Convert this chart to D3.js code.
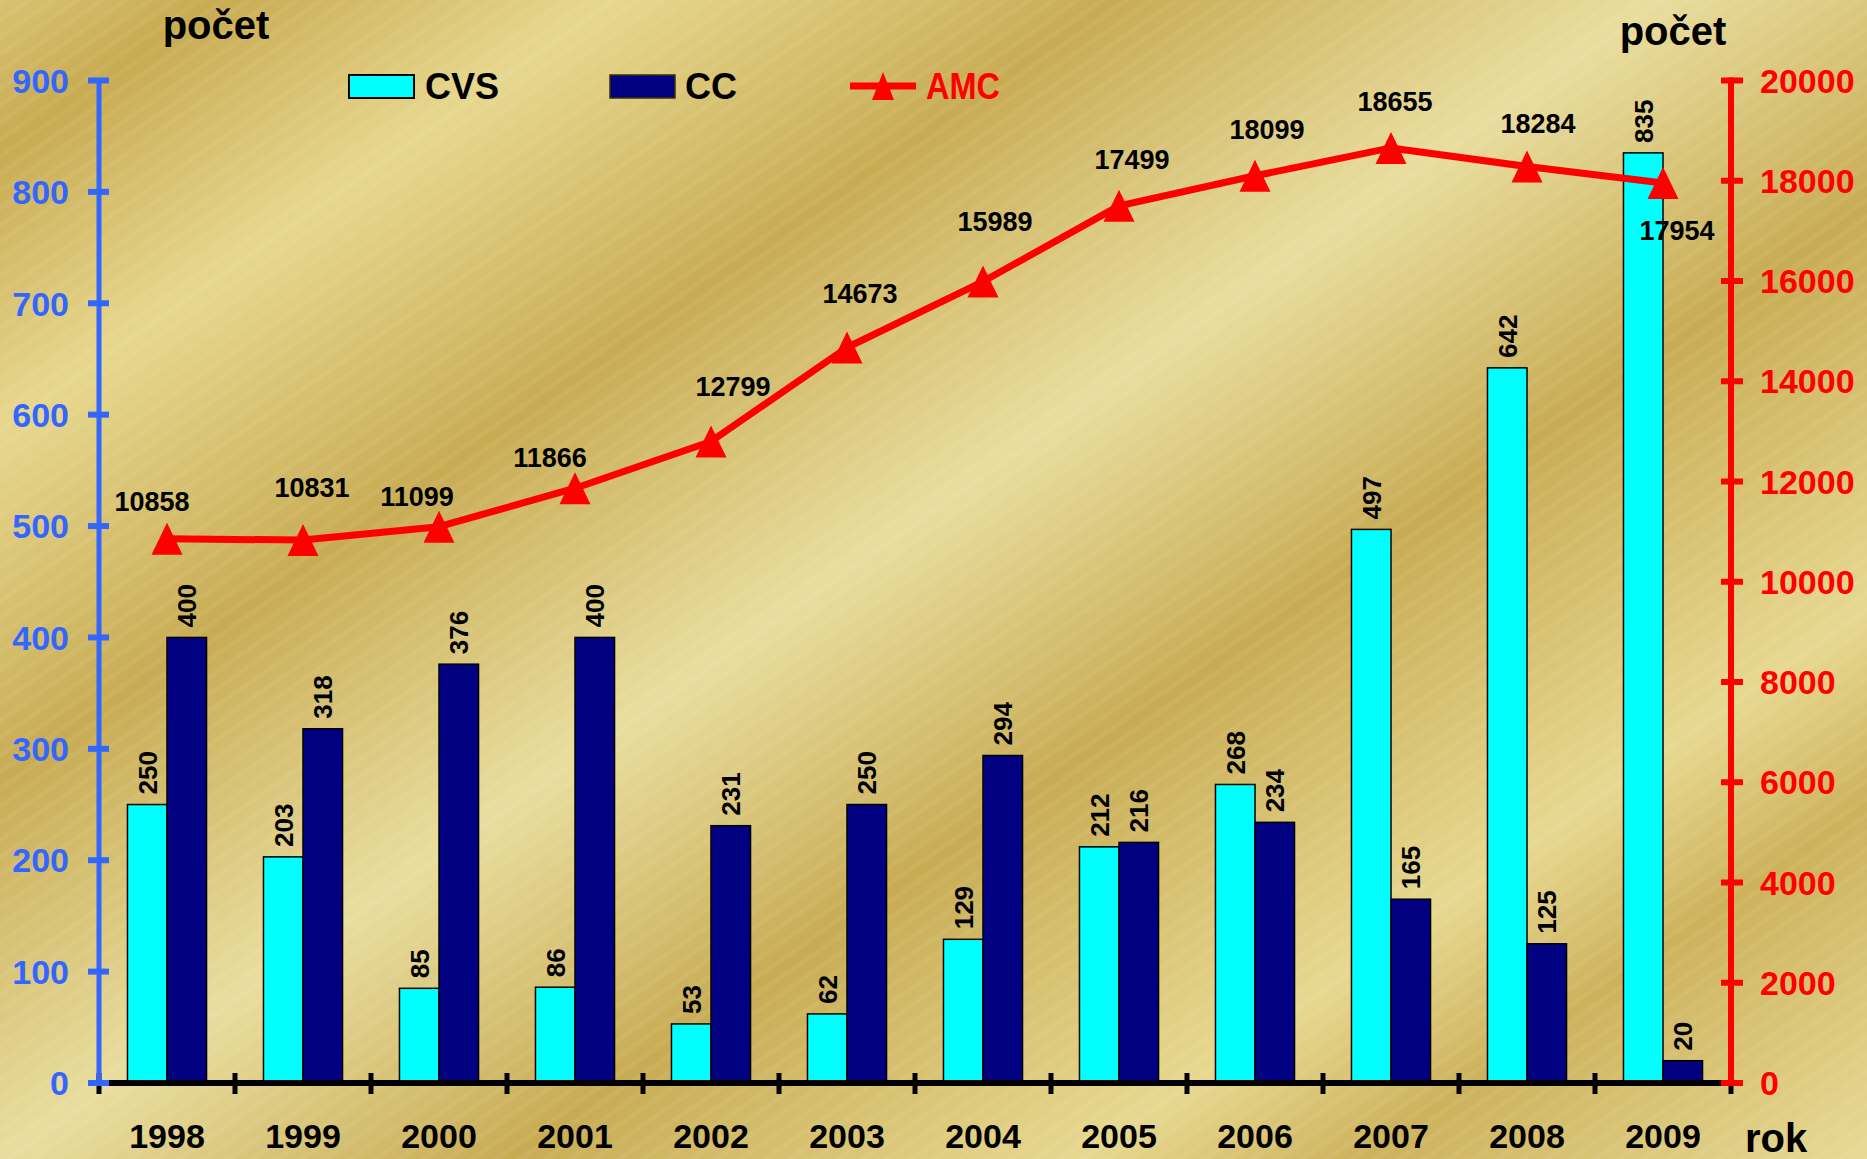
<!DOCTYPE html>
<html>
<head>
<meta charset="utf-8">
<script src="https://cdn.jsdelivr.net/npm/d3@7"></script>
<style>
  html, body { margin: 0; padding: 0; background: #d8c27a; }
  svg { display: block; }
  text { font-family: "Liberation Sans", Arial, Helvetica, sans-serif; font-weight: bold; }
</style>
</head>
<body>
<svg id="chart" width="1867" height="1159"></svg>
<script>
// ---- data ----
const years = ["1998","1999","2000","2001","2002","2003","2004","2005","2006","2007","2008","2009"];
const cvs = [250, 203, 85, 86, 53, 62, 129, 212, 268, 497, 642, 835];
const cc  = [400, 318, 376, 400, 231, 250, 294, 216, 234, 165, 125, 20];
const amc = [10858, 10831, 11099, 11866, 12799, 14673, 15989, 17499, 18099, 18655, 18284, 17954];
const leftTicks  = [0, 100, 200, 300, 400, 500, 600, 700, 800, 900];
const rightTicks = [0, 2000, 4000, 6000, 8000, 10000, 12000, 14000, 16000, 18000, 20000];
const seriesNames = ["CVS", "CC", "AMC"];
// label placement offsets for the AMC value labels (layout, not data)
const amcLabelDx = [-15, 9, -22, -25, 22, 13, 12, 13, 12, 4, 11, 14];
const amcLabelDy = [-28, -43, -21, -21, -45, -45, -51, -37, -37, -37, -34, 57];

const W = 1867, H = 1159;
const svg = d3.select("#chart");
const defs = svg.append("defs");

// ---- background gold gradient ----
const L = 2021, ux = 0.574, uy = 0.819;
const grad = defs.append("linearGradient").attr("id", "gold")
  .attr("gradientUnits", "userSpaceOnUse")
  .attr("x1", 0).attr("y1", 0).attr("x2", ux * L).attr("y2", uy * L);
[
  [0, "rgb(216,194,112)"],
  [124, "rgb(200,171,82)"],
  [350, "rgb(231,215,142)"],
  [640, "rgb(200,172,84)"],
  [950, "rgb(233,221,158)"],
  [1240, "rgb(200,172,84)"],
  [1570, "rgb(231,216,144)"],
  [1730, "rgb(205,178,92)"],
  [2021, "rgb(232,218,150)"]
].forEach(([t, c]) => grad.append("stop").attr("offset", t / L).attr("stop-color", c));

const pat = defs.append("pattern").attr("id", "stripes")
  .attr("patternUnits", "userSpaceOnUse").attr("width", 14).attr("height", 14)
  .attr("patternTransform", "rotate(-35)");
pat.append("rect").attr("width", 14).attr("height", 5).attr("fill", "#fff").attr("opacity", 0.05);

svg.append("rect").attr("width", W).attr("height", H).attr("fill", "url(#gold)");
svg.append("rect").attr("width", W).attr("height", H).attr("fill", "url(#stripes)");

// ---- scales ----
const x0 = 99, x1 = 1731, yBase = 1083, yTop = 80.5;
const x = d3.scaleBand().domain(years).range([x0, x1]).padding(0);
const xs = d3.scaleBand().domain(["CVS", "CC"]).range([0, x.bandwidth()]).paddingInner(0).paddingOuter(0.72);
const yL = d3.scaleLinear().domain([0, 900]).range([yBase, yTop]);
const yR = d3.scaleLinear().domain([0, 20000]).range([yBase, yTop]);

// ---- bars ----
const barData = years.map((yr, i) => ({ yr, vals: [{ k: "CVS", v: cvs[i] }, { k: "CC", v: cc[i] }] }));
const colors = { CVS: "#00ffff", CC: "#000080" };
const grp = svg.append("g").selectAll("g").data(barData).join("g")
  .attr("transform", d => `translate(${x(d.yr)},0)`);
grp.selectAll("rect").data(d => d.vals).join("rect")
  .attr("x", d => xs(d.k)).attr("width", xs.bandwidth())
  .attr("y", d => yL(d.v)).attr("height", d => yBase - yL(d.v))
  .attr("fill", d => colors[d.k]).attr("stroke", "#000").attr("stroke-width", 1.5);
grp.selectAll("text").data(d => d.vals).join("text")
  .attr("transform", d => `translate(${xs(d.k) + xs.bandwidth() / 2},${yL(d.v) - 10}) rotate(-90)`)
  .attr("dy", "0.36em").attr("text-anchor", "start")
  .attr("font-size", 26).attr("fill", "#000").text(d => d.v);

// ---- x axis ----
svg.append("line").attr("x1", x0).attr("x2", x1).attr("y1", yBase).attr("y2", yBase)
  .attr("stroke", "#000").attr("stroke-width", 6);
const xTickPos = years.map(y => x(y)).concat([x1]);
svg.append("g").selectAll("line").data(xTickPos).join("line")
  .attr("x1", d => d).attr("x2", d => d).attr("y1", yBase - 10).attr("y2", yBase + 11)
  .attr("stroke", "#000").attr("stroke-width", 5);
svg.append("g").selectAll("text").data(years).join("text")
  .attr("x", d => x(d) + x.bandwidth() / 2).attr("y", 1148)
  .attr("text-anchor", "middle").attr("font-size", 34).attr("fill", "#000").text(d => d);

// ---- left axis ----
const blue = "#3366ff";
svg.append("line").attr("x1", x0).attr("x2", x0).attr("y1", yTop - 2).attr("y2", yBase)
  .attr("stroke", blue).attr("stroke-width", 5);
svg.append("g").selectAll("line").data(leftTicks).join("line")
  .attr("x1", x0 - 11).attr("x2", x0 + 10).attr("y1", d => yL(d)).attr("y2", d => yL(d))
  .attr("stroke", blue).attr("stroke-width", 6);
svg.append("g").selectAll("text").data(leftTicks).join("text")
  .attr("x", 69).attr("y", d => yL(d)).attr("dy", "0.36em")
  .attr("text-anchor", "end").attr("font-size", 34).attr("fill", blue).text(d => d);

// ---- right axis ----
const red = "#ff0000";
svg.append("line").attr("x1", x1).attr("x2", x1).attr("y1", yTop - 3).attr("y2", yBase)
  .attr("stroke", red).attr("stroke-width", 6);
svg.append("g").selectAll("line").data(rightTicks).join("line")
  .attr("x1", x1 - 10).attr("x2", x1 + 12).attr("y1", d => yR(d)).attr("y2", d => yR(d))
  .attr("stroke", red).attr("stroke-width", 6);
svg.append("g").selectAll("text").data(rightTicks).join("text")
  .attr("x", 1760).attr("y", d => yR(d)).attr("dy", "0.36em")
  .attr("text-anchor", "start").attr("font-size", 34).attr("fill", red).text(d => d);

// ---- AMC line ----
const pts = years.map((yr, i) => ({ yr, v: amc[i], i }));
const cx = d => x(d.yr) + x.bandwidth() / 2;
svg.append("path").datum(pts)
  .attr("d", d3.line().x(cx).y(d => yR(d.v)))
  .attr("fill", "none").attr("stroke", red).attr("stroke-width", 7).attr("stroke-linejoin", "round");
const tri = "M0,-16L15.5,16L-15.5,16Z";
svg.append("g").selectAll("path").data(pts).join("path")
  .attr("d", tri).attr("transform", d => `translate(${cx(d)},${yR(d.v)})`).attr("fill", red);
svg.append("g").selectAll("text").data(pts).join("text")
  .attr("x", d => cx(d) + amcLabelDx[d.i]).attr("y", d => yR(d.v) + amcLabelDy[d.i])
  .attr("text-anchor", "middle").attr("font-size", 27).attr("fill", "#000").text(d => d.v);

// ---- axis titles ----
svg.append("text").attr("x", 216).attr("y", 39).attr("text-anchor", "middle")
  .attr("font-size", 40).attr("fill", "#000").text("počet");
svg.append("text").attr("x", 1673).attr("y", 45).attr("text-anchor", "middle")
  .attr("font-size", 40).attr("fill", "#000").text("počet");
svg.append("text").attr("x", 1745).attr("y", 1152).attr("text-anchor", "start")
  .attr("font-size", 40).attr("fill", "#000").text("rok");

// ---- legend ----
const lg = svg.append("g");
lg.append("rect").attr("x", 349).attr("y", 75).attr("width", 65).attr("height", 23)
  .attr("fill", colors.CVS).attr("stroke", "#000").attr("stroke-width", 2);
lg.append("text").attr("x", 425).attr("y", 99).attr("font-size", 36).attr("fill", "#000").text(seriesNames[0]);
lg.append("rect").attr("x", 610).attr("y", 75).attr("width", 65).attr("height", 23)
  .attr("fill", colors.CC).attr("stroke", "#3a3000").attr("stroke-width", 1.5);
lg.append("text").attr("x", 685).attr("y", 99).attr("font-size", 36).attr("fill", "#000").text(seriesNames[1]);
lg.append("line").attr("x1", 850).attr("x2", 916).attr("y1", 86).attr("y2", 86)
  .attr("stroke", red).attr("stroke-width", 7);
lg.append("path").attr("d", "M0,-14L11,14L-11,14Z").attr("transform", "translate(883,86)").attr("fill", red);
lg.append("text").attr("x", 926).attr("y", 99).attr("font-size", 36).attr("fill", red)
  .attr("textLength", 74).attr("lengthAdjust", "spacingAndGlyphs").text(seriesNames[2]);
</script>
</body>
</html>
